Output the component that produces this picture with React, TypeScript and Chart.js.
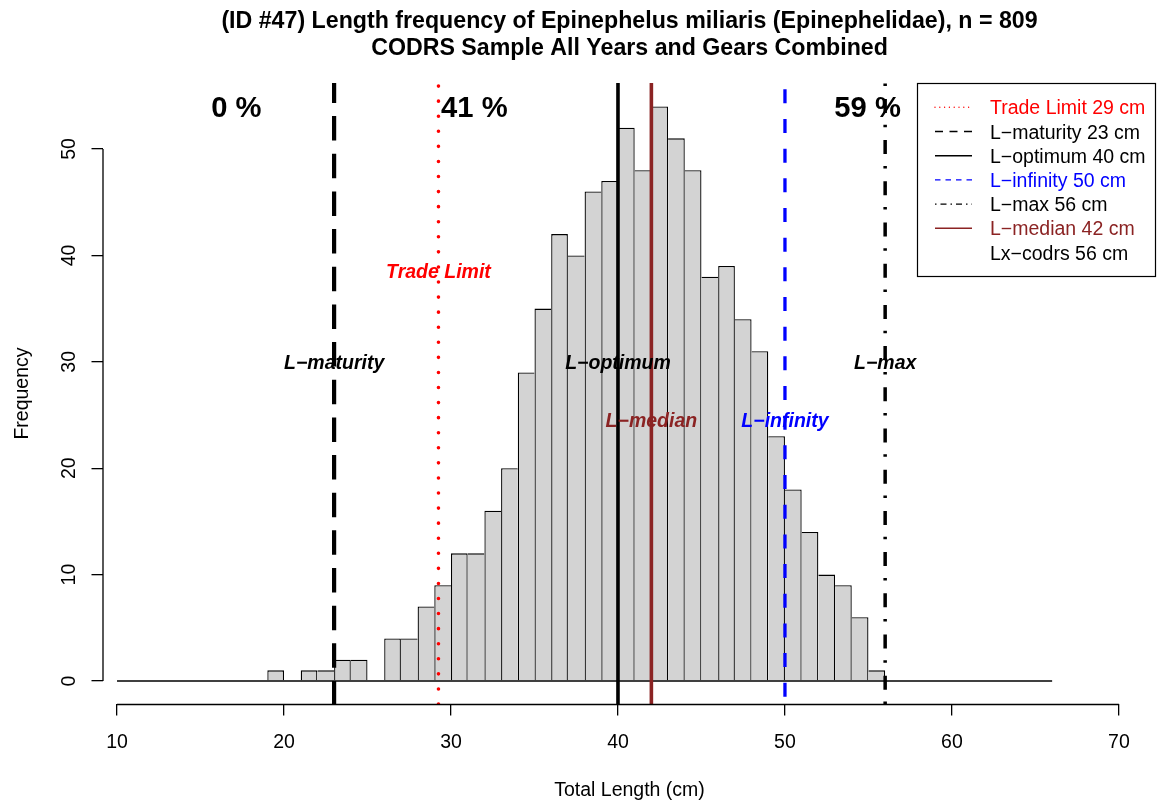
import React, { useEffect, useRef } from "react";
import { Chart, registerables } from "chart.js";

Chart.register(...registerables);

// ---------- data ----------
const TITLE_LINE_1 = "(ID #47) Length frequency of Epinephelus miliaris (Epinephelidae), n = 809";
const TITLE_LINE_2 = "CODRS Sample All Years and Gears Combined";
const X_AXIS_TITLE = "Total Length (cm)";
const Y_AXIS_TITLE = "Frequency";

// lower edges of the 1 cm histogram bins
const binLower = [
  10, 11, 12, 13, 14, 15, 16, 17, 18, 19, 20, 21, 22, 23, 24, 25, 26, 27, 28, 29,
  30, 31, 32, 33, 34, 35, 36, 37, 38, 39, 40, 41, 42, 43, 44, 45, 46, 47, 48, 49,
  50, 51, 52, 53, 54, 55, 56, 57, 58, 59, 60, 61, 62, 63, 64, 65,
];
const frequency = [
  0, 0, 0, 0, 0, 0, 0, 0, 0, 1, 0, 1, 1, 2, 2, 0, 4, 4, 7, 9,
  12, 12, 16, 20, 29, 35, 42, 40, 46, 47, 52, 48, 54, 51, 48, 38, 39, 34, 31, 23,
  18, 14, 10, 9, 6, 1, 0, 0, 0, 0, 0, 0, 0, 0, 0, 0,
];
const BIN_WIDTH = 1;

const xTicks = [10, 20, 30, 40, 50, 60, 70];
const yTicks = [0, 10, 20, 30, 40, 50];
const X_MIN = 9.16;
const X_MAX = 72.22;
const Y_MIN = -2.16;
const Y_MAX = 56.2;

// reference lengths
const refNames = ["Trade Limit", "L\u2212maturity", "L\u2212optimum", "L\u2212infinity", "L\u2212max", "L\u2212median"];
const refValues = [29.25, 23, 40, 50, 56, 42];
const refLabelY = [38.5, 30, 30, 24.5, 30, 24.5];

const percentLabels = ["0 %", "41 %", "59 %"];
const percentX = [17.15, 31.4, 54.95];
const PERCENT_Y = 54;

const legendTexts = [
  "Trade Limit 29 cm",
  "L\u2212maturity 23 cm",
  "L\u2212optimum 40 cm",
  "L\u2212infinity 50 cm",
  "L\u2212max 56 cm",
  "L\u2212median 42 cm",
  "Lx\u2212codrs 56 cm",
];

// ---------- styles ----------
const FAMILY = "'Liberation Sans', Arial, Helvetica, sans-serif";
const BASE = 19.5;
const RED = "#FF0000";
const BLUE = "#0000FF";
const BROWN = "#8B2323";
const BLACK = "#000000";

const refColors = [RED, BLACK, BLACK, BLUE, BLACK, BROWN];
const refWidths = [3.6, 4.2, 3.6, 3.3, 3.5, 3.6];
const refDashes = [[0.001, 15.07], [24.5, 13.16], [], [14, 15.67], [2.5, 11.8, 14, 12.9], []];
const refDashOffsets = [0, 1.5, 0, 22.4, 0, 0];
const refCaps = ["round", "butt", "butt", "butt", "butt", "butt"];

const legendColors = [RED, BLACK, BLACK, BLUE, BLACK, BROWN, BLACK];
const legendDashes = [[0.001, 4.8], [8, 6.5], [], [5.5, 5], [1.5, 4, 6, 4], [], null];
const legendCaps = ["round", "butt", "butt", "butt", "butt", "butt", "butt"];

function borderFor(i: number) {
  const h = frequency[i];
  const prev = i > 0 ? frequency[i - 1] : 0;
  const next = i < frequency.length - 1 ? frequency[i + 1] : 0;
  const w = 1.3;
  return { top: w, bottom: 0, left: h > prev ? w : 0, right: h >= next ? w : 0 };
}

const overlayPlugin = {
  id: "overlay",
  afterDraw(chart: any) {
    const { ctx, chartArea } = chart;
    const xs = chart.scales.x;
    const ys = chart.scales.y;
    const cx = (chartArea.left + chartArea.right) / 2;
    ctx.save();
    ctx.fillStyle = BLACK;
    ctx.strokeStyle = BLACK;

    // axis lines
    ctx.lineWidth = 1.3;
    ctx.setLineDash([]);
    ctx.beginPath();
    const ay = chartArea.bottom + 0.5;
    ctx.moveTo(xs.getPixelForValue(xTicks[0]), ay);
    ctx.lineTo(xs.getPixelForValue(xTicks[xTicks.length - 1]), ay);
    ctx.moveTo(chartArea.left, ys.getPixelForValue(yTicks[0]));
    ctx.lineTo(chartArea.left, ys.getPixelForValue(yTicks[yTicks.length - 1]));
    ctx.stroke();

    // y tick labels (rotated, R style)
    ctx.font = `${BASE}px ${FAMILY}`;
    ctx.textAlign = "center";
    ctx.textBaseline = "alphabetic";
    yTicks.forEach((v) => {
      ctx.save();
      ctx.translate(75, ys.getPixelForValue(v));
      ctx.rotate(-Math.PI / 2);
      ctx.fillText(String(v), 0, 0);
      ctx.restore();
    });

    // axis titles
    ctx.save();
    ctx.translate(27.5, (chartArea.top + chartArea.bottom) / 2);
    ctx.rotate(-Math.PI / 2);
    ctx.fillText(Y_AXIS_TITLE, 0, 0);
    ctx.restore();
    ctx.fillText(X_AXIS_TITLE, cx, 796);

    // title
    ctx.font = `bold 23.2px ${FAMILY}`;
    ctx.fillText(TITLE_LINE_1, cx, 28.4);
    ctx.fillText(TITLE_LINE_2, cx, 55.4);

    // percent labels
    ctx.font = `bold 29.2px ${FAMILY}`;
    percentLabels.forEach((t, i) => {
      ctx.fillText(t, xs.getPixelForValue(percentX[i]), ys.getPixelForValue(PERCENT_Y) + 10.5);
    });

    // reference line labels
    ctx.font = `italic bold ${BASE}px ${FAMILY}`;
    refNames.forEach((t, i) => {
      ctx.fillStyle = refColors[i];
      ctx.fillText(t, xs.getPixelForValue(refValues[i]), ys.getPixelForValue(refLabelY[i]) + 7);
    });

    // legend
    const boxW = 239;
    const boxH = 193;
    const bx = chartArea.right - boxW;
    const by = chartArea.top;
    ctx.lineWidth = 1.2;
    ctx.strokeStyle = BLACK;
    ctx.setLineDash([]);
    ctx.strokeRect(bx + 0.5, by + 0.5, boxW - 1, boxH);
    ctx.font = `${BASE}px ${FAMILY}`;
    ctx.textAlign = "left";
    legendTexts.forEach((t, i) => {
      const rowY = by + 24.3 + i * 24.2;
      const dash = legendDashes[i];
      if (dash) {
        ctx.beginPath();
        ctx.strokeStyle = legendColors[i];
        ctx.lineWidth = 1.4;
        ctx.lineCap = legendCaps[i];
        ctx.setLineDash(dash);
        ctx.moveTo(bx + 18, rowY);
        ctx.lineTo(bx + 55, rowY);
        ctx.stroke();
      }
      ctx.fillStyle = legendColors[i];
      ctx.fillText(t, bx + 73, rowY + 7);
    });
    ctx.restore();
  },
};

export default function App() {
  const canvasRef = useRef<HTMLCanvasElement | null>(null);

  useEffect(() => {
    const canvas = canvasRef.current;
    if (!canvas) return;

    const lineSets = refValues.map((v, i) => ({
      type: "line" as const,
      label: refNames[i],
      data: [
        { x: v, y: Y_MIN },
        { x: v, y: Y_MAX },
      ],
      borderColor: refColors[i],
      borderWidth: refWidths[i],
      borderDash: refDashes[i],
      borderDashOffset: refDashOffsets[i],
      borderCapStyle: refCaps[i],
      pointRadius: 0,
      pointHoverRadius: 0,
      fill: false,
      tension: 0,
    }));

    const baseline = {
      type: "line" as const,
      label: "baseline",
      data: [
        { x: binLower[0], y: 0 },
        { x: binLower[binLower.length - 1] + BIN_WIDTH, y: 0 },
      ],
      borderColor: BLACK,
      borderWidth: 1.3,
      pointRadius: 0,
      pointHoverRadius: 0,
      fill: false,
    };

    const bars = {
      type: "bar" as const,
      label: "Frequency",
      data: binLower.map((b, i) => ({ x: b + BIN_WIDTH / 2, y: frequency[i] })),
      backgroundColor: "#D3D3D3",
      borderColor: BLACK,
      borderWidth: binLower.map((_, i) => borderFor(i)),
      borderSkipped: false,
      barPercentage: 1,
      categoryPercentage: 1,
      inflateAmount: 0,
    };

    const chart = new Chart(canvas, {
      type: "bar",
      data: { datasets: [...lineSets, baseline, bars] as any },
      options: {
        responsive: false,
        animation: false,
        devicePixelRatio: 1,
        events: [],
        layout: { padding: { top: 83, right: 7, left: 0, bottom: 0 } },
        plugins: {
          legend: { display: false },
          title: { display: false },
          tooltip: { enabled: false },
        },
        scales: {
          x: {
            type: "linear",
            min: X_MIN,
            max: X_MAX,
            offset: false,
            afterBuildTicks: (s: any) => {
              s.ticks = xTicks.map((v) => ({ value: v }));
            },
            afterFit: (s: any) => {
              s.height = 101;
            },
            grid: {
              display: true,
              offset: false,
              drawOnChartArea: false,
              drawTicks: true,
              tickLength: 11.5,
              color: BLACK,
              lineWidth: 1.3,
            },
            border: { display: false },
            ticks: {
              color: BLACK,
              font: { family: FAMILY, size: BASE },
              padding: 15,
              maxRotation: 0,
              minRotation: 0,
              autoSkip: false,
              callback: (v: any) => String(v),
            },
          },
          y: {
            type: "linear",
            min: Y_MIN,
            max: Y_MAX,
            afterBuildTicks: (s: any) => {
              s.ticks = yTicks.map((v) => ({ value: v }));
            },
            afterFit: (s: any) => {
              s.width = 103;
            },
            grid: {
              display: true,
              drawOnChartArea: false,
              drawTicks: true,
              tickLength: 11.5,
              color: BLACK,
              lineWidth: 1.3,
            },
            border: { display: false },
            ticks: { display: false },
          },
        },
      } as any,
      plugins: [overlayPlugin],
    });

    return () => chart.destroy();
  }, []);

  return (
    <div style={{ position: "absolute", left: 0, top: 0, width: 1163, height: 805, background: "#fff" }}>
      <canvas ref={canvasRef} width={1163} height={805} style={{ display: "block" }} />
    </div>
  );
}
